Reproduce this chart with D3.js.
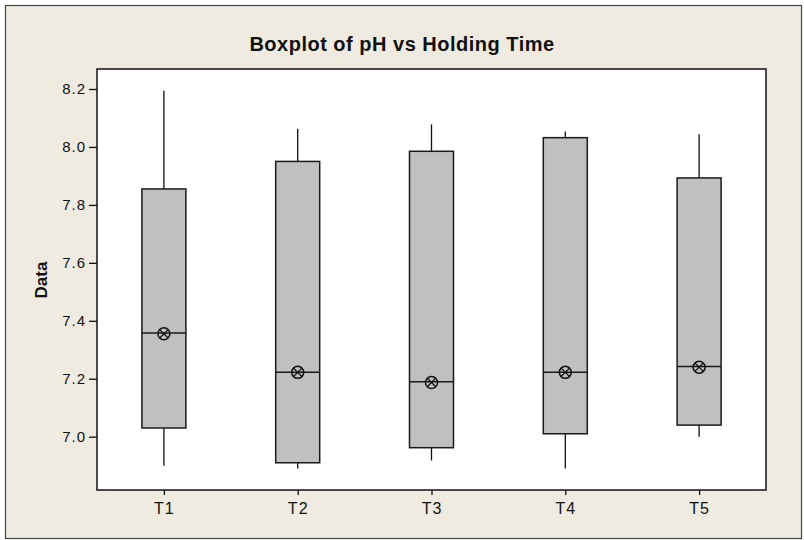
<!DOCTYPE html>
<html>
<head>
<meta charset="utf-8">
<script src="https://cdn.jsdelivr.net/npm/d3@7"></script>
<style>
  body { margin: 0; background: #fff; }
  text { font-family: "Liberation Sans", Arial, sans-serif; fill: #111; }
</style>
</head>
<body>
<div id="chart"></div>
<script>
// pH per holding time
var categories = ["T1", "T2", "T3", "T4", "T5"];
var whiskerLow = [6.900, 6.890, 6.918, 6.890, 7.000];
var q1 = [7.030, 6.910, 6.962, 7.010, 7.040];
var median = [7.358, 7.222, 7.190, 7.222, 7.242];
var mean = [7.355, 7.222, 7.187, 7.222, 7.240];
var q3 = [7.855, 7.950, 7.985, 8.032, 7.893];
var whiskerHigh = [8.194, 8.063, 8.078, 8.053, 8.044];
var yTicks = [7.0, 7.2, 7.4, 7.6, 7.8, 8.0, 8.2];

var width = 804, height = 540;
var plot = { left: 97, top: 69, right: 766, bottom: 490 };

var svg = d3.select("#chart")
    .append("svg")
    .attr("width", width)
    .attr("height", height);

// beige frame
svg.append("rect")
    .attr("x", 5.5).attr("y", 5.5)
    .attr("width", 796).attr("height", 533)
    .style("fill", "#efebe1")
    .style("stroke", "#444")
    .style("stroke-width", 1.2);

svg.append("rect")
    .attr("x", plot.left).attr("y", plot.top)
    .attr("width", plot.right - plot.left).attr("height", plot.bottom - plot.top)
    .style("fill", "#fff");

var x = d3.scalePoint()
    .domain(categories)
    .range([plot.left, plot.right])
    .padding(0.5);

var y = d3.scaleLinear()
    .domain([6.816, 8.269])
    .range([plot.bottom, plot.top]);

var rows = categories.map(function (c, i) {
    return { name: c, lo: whiskerLow[i], q1: q1[i], med: median[i], mean: mean[i], q3: q3[i], hi: whiskerHigh[i] };
});

var boxW = 44;

var g = svg.selectAll(".box")
    .data(rows)
    .enter()
    .append("g")
    .attr("class", "box");

// whiskers
g.append("line")
    .attr("x1", function (d) { return x(d.name); })
    .attr("x2", function (d) { return x(d.name); })
    .attr("y1", function (d) { return y(d.hi); })
    .attr("y2", function (d) { return y(d.q3); })
    .style("stroke", "#111").style("stroke-width", 1.3);

g.append("line")
    .attr("x1", function (d) { return x(d.name); })
    .attr("x2", function (d) { return x(d.name); })
    .attr("y1", function (d) { return y(d.q1); })
    .attr("y2", function (d) { return y(d.lo); })
    .style("stroke", "#111").style("stroke-width", 1.3);

g.append("rect")
    .attr("x", function (d) { return x(d.name) - boxW / 2; })
    .attr("y", function (d) { return y(d.q3); })
    .attr("width", boxW)
    .attr("height", function (d) { return y(d.q1) - y(d.q3); })
    .style("fill", "#c0c0c0")
    .style("stroke", "#1a1a1a")
    .style("stroke-width", 1.5);

g.append("line")
    .attr("x1", function (d) { return x(d.name) - boxW / 2; })
    .attr("x2", function (d) { return x(d.name) + boxW / 2; })
    .attr("y1", function (d) { return y(d.med); })
    .attr("y2", function (d) { return y(d.med); })
    .style("stroke", "#1a1a1a").style("stroke-width", 1.5);

// mean symbol: circle with a cross
var r = 6;
g.append("circle")
    .attr("cx", function (d) { return x(d.name); })
    .attr("cy", function (d) { return y(d.mean); })
    .attr("r", r)
    .style("fill", "none")
    .style("stroke", "#111")
    .style("stroke-width", 1.5);

[[-1, -1, 1, 1], [-1, 1, 1, -1]].forEach(function (k) {
    var s = r * 0.7;
    g.append("line")
        .attr("x1", function (d) { return x(d.name) + k[0] * s; })
        .attr("y1", function (d) { return y(d.mean) + k[1] * s; })
        .attr("x2", function (d) { return x(d.name) + k[2] * s; })
        .attr("y2", function (d) { return y(d.mean) + k[3] * s; })
        .style("stroke", "#111").style("stroke-width", 1.3);
});

// plot border
svg.append("rect")
    .attr("x", plot.left).attr("y", plot.top)
    .attr("width", plot.right - plot.left).attr("height", plot.bottom - plot.top)
    .style("fill", "none")
    .style("stroke", "#111")
    .style("stroke-width", 1.5);

// axes
var yAxis = svg.append("g")
    .attr("transform", "translate(" + plot.left + ",0)")
    .call(d3.axisLeft(y).tickValues(yTicks).tickFormat(d3.format(".1f")).tickSize(8).tickPadding(3));

var xAxis = svg.append("g")
    .attr("transform", "translate(0," + plot.bottom + ")")
    .call(d3.axisBottom(x).tickSize(5).tickPadding(8));

[yAxis, xAxis].forEach(function (a) {
    a.select(".domain").remove();
    a.selectAll(".tick line").style("stroke", "#111").style("stroke-width", 1.3);
    a.selectAll(".tick text")
        .style("font-family", '"Liberation Sans", Arial, sans-serif')
        .style("fill", "#111")
        .style("letter-spacing", "1px");
});
yAxis.selectAll(".tick text").style("font-size", "15px");
xAxis.selectAll(".tick text").style("font-size", "16px");

svg.append("text")
    .attr("x", 402)
    .attr("y", 51)
    .attr("text-anchor", "middle")
    .style("font-size", "20px")
    .style("font-weight", "bold")
    .style("letter-spacing", "0.5px")
    .text("Boxplot of pH vs Holding Time");

svg.append("text")
    .attr("transform", "translate(47,280) rotate(-90)")
    .attr("text-anchor", "middle")
    .style("font-size", "17px")
    .style("font-weight", "bold")
    .text("Data");
</script>
</body>
</html>
